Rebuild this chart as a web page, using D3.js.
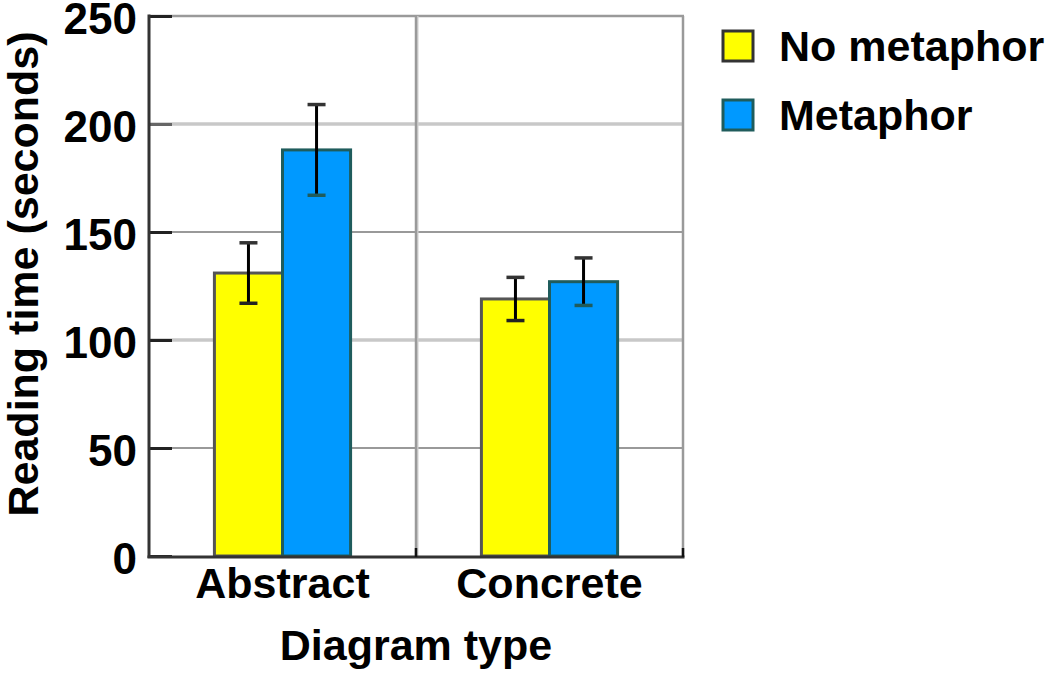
<!DOCTYPE html>
<html>
<head>
<meta charset="utf-8">
<script src="https://cdn.jsdelivr.net/npm/d3@7"></script>
<style>
  html, body { margin: 0; padding: 0; background: #fff; }
  svg { display: block; }
  text { font-family: "Liberation Sans", Arial, Helvetica, sans-serif; font-weight: bold; fill: #000; }
</style>
</head>
<body>
<svg id="chart" width="1050" height="673"></svg>
<script>
// ---- data ----
const categories = ["Abstract", "Concrete"];
const seriesNames = ["No metaphor", "Metaphor"];
const noMetaphorMeans = [131, 119];
const noMetaphorErr = [14, 10];
const metaphorMeans = [188, 127];
const metaphorErr = [21, 11];
const yTicks = [0, 50, 100, 150, 200, 250];

const seriesFill = ["#ffff00", "#0099ff"];
const seriesStroke = ["#555555", "#1f5c5c"];

(function () {
const svg = d3.select("#chart");
const pLeft = 149, pRight = 683, pTop = 16, pBottom = 556;

const x0 = d3.scaleBand().domain(categories).range([pLeft, pRight]).paddingInner(0.49).paddingOuter(0.245);
const x1 = d3.scaleBand().domain(seriesNames).range([0, x0.bandwidth()]).padding(0);
const y = d3.scaleLinear().domain([0, 250]).range([pBottom, pTop]);

const rows = [];
categories.forEach((c, i) => {
  rows.push({cat: c, s: 0, v: noMetaphorMeans[i], e: noMetaphorErr[i]});
  rows.push({cat: c, s: 1, v: metaphorMeans[i], e: metaphorErr[i]});
});

// gridlines horizontal
const g = svg.append("g");
yTicks.filter(t => t > 0 && t < 250).forEach(t => {
  const light = (t % 100 === 0);
  g.append("line")
    .attr("x1", pLeft).attr("x2", pRight)
    .attr("y1", y(t)).attr("y2", y(t))
    .attr("stroke", light ? "#c8c8c8" : "#999999")
    .attr("stroke-width", light ? 3.5 : 2.2);
});
// top border
g.append("line").attr("x1", pLeft).attr("x2", pRight + 1).attr("y1", y(250)).attr("y2", y(250))
  .attr("stroke", "#9a9a9a").attr("stroke-width", 2.5);
// vertical dividers (group boundaries)
const divs = [ (x0("Abstract") + x0.bandwidth() + x0("Concrete")) / 2, pRight ];
g.append("line").attr("x1", divs[0] + 1.5).attr("x2", divs[0] + 1.5).attr("y1", y(250)).attr("y2", pBottom)
  .attr("stroke", "#d0d0d0").attr("stroke-width", 2);
g.append("line").attr("x1", divs[0]).attr("x2", divs[0]).attr("y1", y(250)).attr("y2", pBottom)
  .attr("stroke", "#9a9a9a").attr("stroke-width", 2.5);
g.append("line").attr("x1", pRight).attr("x2", pRight).attr("y1", y(250)).attr("y2", pBottom)
  .attr("stroke", "#9a9a9a").attr("stroke-width", 2.5);

// bars
svg.append("g").selectAll("rect").data(rows).join("rect")
  .attr("x", d => x0(d.cat) + x1(seriesNames[d.s]))
  .attr("y", d => y(d.v))
  .attr("width", x1.bandwidth())
  .attr("height", d => y(0) - y(d.v))
  .attr("fill", d => seriesFill[d.s])
  .attr("stroke", d => seriesStroke[d.s])
  .attr("stroke-width", 3);

// error bars
const eb = svg.append("g").attr("stroke", "#000").attr("stroke-width", 3);
rows.forEach(d => {
  const cx = x0(d.cat) + x1(seriesNames[d.s]) + x1.bandwidth() / 2;
  eb.append("line").attr("x1", cx).attr("x2", cx).attr("y1", y(d.v + d.e)).attr("y2", y(d.v - d.e));
  eb.append("line").attr("x1", cx - 9).attr("x2", cx + 9).attr("y1", y(d.v + d.e)).attr("y2", y(d.v + d.e)).attr("stroke", "#333").attr("stroke-width", 3.5);
  eb.append("line").attr("x1", cx - 9).attr("x2", cx + 9).attr("y1", y(d.v - d.e)).attr("y2", y(d.v - d.e)).attr("stroke", d.s === 1 ? "#1f5c5c" : "#222").attr("stroke-width", 3.5);
});

// y axis
const yAxis = d3.axisLeft(y).tickValues(yTicks).tickSize(-23).tickPadding(0).tickFormat(d3.format("d"));
const ya = svg.append("g").attr("transform", `translate(${pLeft},0)`).call(yAxis);
ya.select(".domain").remove();
ya.selectAll(".tick line").attr("stroke", d => d === 200 ? "#666" : "#222").attr("stroke-width", 3);
ya.selectAll(".tick text").attr("x", -12).attr("dy", "0.4em")
  .style("font-size", "44px").style("font-family", '"Liberation Sans", Arial, sans-serif').style("font-weight", "bold").attr("fill", "#000");
svg.append("line").attr("x1", pLeft).attr("x2", pLeft).attr("y1", y(250) - 1.5).attr("y2", pBottom + 2)
  .attr("stroke", "#333").attr("stroke-width", 3);

// x axis
const xAxis = d3.axisBottom(x0).tickSize(0).tickPadding(0);
const xa = svg.append("g").attr("transform", `translate(0,${pBottom + 1})`).call(xAxis);
xa.select(".domain").remove();
xa.selectAll(".tick text").attr("y", 41).attr("dy", 0)
  .style("font-size", "43px").style("font-family", '"Liberation Sans", Arial, sans-serif').style("font-weight", "bold").attr("fill", "#000");
svg.append("line").attr("x1", pLeft - 1.5).attr("x2", pRight + 1.5).attr("y1", pBottom + 1).attr("y2", pBottom + 1)
  .attr("stroke", "#333").attr("stroke-width", 3);
divs.forEach(dx => {
  svg.append("line").attr("x1", dx).attr("x2", dx).attr("y1", pBottom + 1).attr("y2", pBottom - 8)
    .attr("stroke", "#111").attr("stroke-width", 2.5);
});

// axis titles
svg.append("text").attr("x", (pLeft + pRight) / 2).attr("y", 660).attr("text-anchor", "middle")
  .style("font-size", "43px").text("Diagram type");
svg.append("text").attr("transform", `translate(38,${(28 + 520) / 2}) rotate(-90)`).attr("text-anchor", "middle")
  .style("font-size", "43px").text("Reading time (seconds)");

// legend
const legend = svg.append("g");
seriesNames.forEach((name, i) => {
  const ly = 46 + i * 69;
  legend.append("rect").attr("x", 723).attr("y", ly - 15).attr("width", 30).attr("height", 30)
    .attr("fill", seriesFill[i]).attr("stroke", i === 0 ? "#333" : "#1f5c5c").attr("stroke-width", 3);
  legend.append("text").attr("x", 779).attr("y", ly + 15).style("font-size", "43px").text(name);
});
})();
</script>
</body>
</html>
